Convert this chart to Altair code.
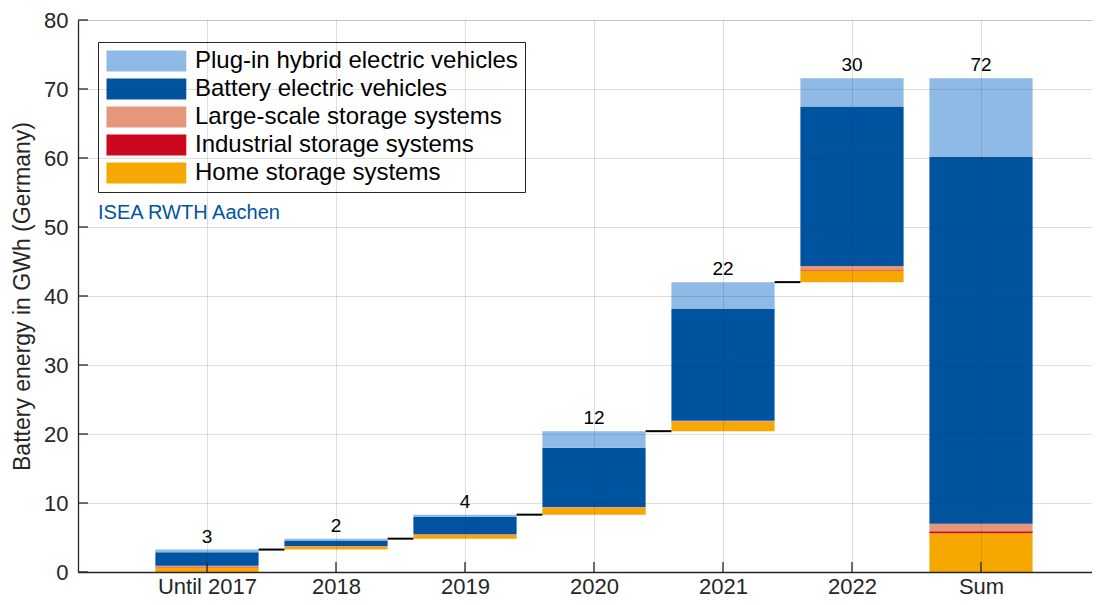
import altair as alt
import pandas as pd

# ---------------- data ----------------
categories = ["Until 2017", "2018", "2019", "2020", "2021", "2022", "Sum"]
series = [
    "Plug-in hybrid electric vehicles",
    "Battery electric vehicles",
    "Large-scale storage systems",
    "Industrial storage systems",
    "Home storage systems",
]
colors = ["#8EBAE5", "#00549F", "#E69679", "#CC071E", "#F6A800"]

# yearly additions in GWh (Until 2017 ... 2022)
home = [0.6, 0.45, 0.55, 0.95, 1.35, 1.7]
industrial = [0.1, 0.03, 0.03, 0.05, 0.05, 0.05]
large_scale = [0.2, 0.05, 0.05, 0.1, 0.1, 0.6]
bev = [1.95, 0.8, 2.5, 8.6, 16.2, 23.1]
phev = [0.4, 0.25, 0.35, 2.4, 3.9, 4.1]
value_labels = ["3", "2", "4", "12", "22", "30", "72"]
y_ticks = [0, 10, 20, 30, 40, 50, 60, 70, 80]

# ---------------- layout ----------------
W, H = 1014, 552
STEP = 129.0
X_MAX = W / STEP
HALF = 0.4
FONT = "Liberation Sans, Arial, Helvetica, sans-serif"
DARK = "#262626"

stack_order = [
    ("Home storage systems", home),
    ("Industrial storage systems", industrial),
    ("Large-scale storage systems", large_scale),
    ("Battery electric vehicles", bev),
    ("Plug-in hybrid electric vehicles", phev),
]

rows = []
tops = []
base = 0.0
n_years = len(home)
for i in range(n_years):
    for name, vals in stack_order:
        v = vals[i]
        rows.append({"pos": i + 1, "series": name, "y0": base, "y1": base + v})
        base += v
    tops.append(base)
# Sum bar
s = 0.0
for name, vals in stack_order:
    tot = sum(vals)
    rows.append({"pos": n_years + 1, "series": name, "y0": s, "y1": s + tot})
    s += tot
tops.append(s)

bars_df = pd.DataFrame(rows)
bars_df["xl"] = bars_df["pos"] - HALF
bars_df["xr"] = bars_df["pos"] + HALF

conn_df = pd.DataFrame({
    "xl": [i + 1 + HALF for i in range(n_years - 1)],
    "xr": [i + 2 - HALF for i in range(n_years - 1)],
    "y": tops[: n_years - 1],
})

lab_df = pd.DataFrame({
    "pos": list(range(1, len(categories) + 1)),
    "top": tops,
    "label": value_labels,
})

ytick_df = pd.DataFrame({"v": y_ticks})
xtick_df = pd.DataFrame({"pos": list(range(1, len(categories) + 1))})
note_df = pd.DataFrame({"t": ["ISEA RWTH Aachen"]})

label_expr = "[" + ",".join(["''"] + ["'" + c + "'" for c in categories]) + "][datum.value]"

x_scale = alt.Scale(domain=[0, X_MAX], nice=False, zero=False)
y_scale = alt.Scale(domain=[0, 80], nice=False)

x_axis = alt.Axis(
    values=list(range(1, len(categories) + 1)),
    labelExpr=label_expr,
    title=None,
    ticks=False,
    grid=True,
    gridColor=DARK,
    gridOpacity=0.15,
    domainColor=DARK,
    domainWidth=1.3,
    labelFontSize=22,
    labelColor=DARK,
    labelFont=FONT,
    labelPadding=4,
    zindex=1,
)
y_axis = alt.Axis(
    values=y_ticks,
    title="Battery energy in GWh (Germany)",
    titleFontSize=23,
    titleFont=FONT,
    titleFontWeight="normal",
    titleColor=DARK,
    titlePadding=9,
    ticks=False,
    grid=True,
    gridColor=DARK,
    gridOpacity=0.15,
    domainColor=DARK,
    domainWidth=1.3,
    labelFontSize=22,
    labelColor=DARK,
    labelFont=FONT,
    labelPadding=10,
    zindex=1,
)

legend = alt.Legend(
    title=None,
    orient="none",
    legendX=20,
    legendY=22,
    symbolType="M-1,-1H6.6V1H-1Z",
    symbolSize=441,
    symbolStrokeWidth=0,
    symbolOpacity=1,
    labelOffset=66,
    labelFontSize=24,
    labelFont=FONT,
    labelColor="black",
    labelLimit=600,
    padding=7,
    rowPadding=4,
    strokeColor=DARK,
    fillColor="white",
    cornerRadius=0,
)

bars = alt.Chart(bars_df).mark_bar(strokeWidth=0).encode(
    x=alt.X("xl:Q", scale=x_scale, axis=x_axis),
    x2="xr:Q",
    y=alt.Y("y0:Q", scale=y_scale, axis=y_axis),
    y2="y1:Q",
    color=alt.Color("series:N", scale=alt.Scale(domain=series, range=colors), legend=legend),
)

connectors = alt.Chart(conn_df).mark_rule(color="black", strokeWidth=2).encode(
    x=alt.X("xl:Q", scale=x_scale),
    x2="xr:Q",
    y=alt.Y("y:Q", scale=y_scale),
)

labels = alt.Chart(lab_df).mark_text(
    baseline="alphabetic", dy=-7, fontSize=19, font=FONT, color="black"
).encode(
    x=alt.X("pos:Q", scale=x_scale),
    y=alt.Y("top:Q", scale=y_scale),
    text="label:N",
)

yticks = alt.Chart(ytick_df).mark_rule(color=DARK, strokeWidth=1.3).encode(
    x=alt.value(0),
    x2=alt.value(10),
    y=alt.Y("v:Q", scale=y_scale),
)

xticks = alt.Chart(xtick_df).mark_rule(color=DARK, strokeWidth=1.3).encode(
    x=alt.X("pos:Q", scale=x_scale),
    y=alt.value(H - 10),
    y2=alt.value(H),
)

note = alt.Chart(note_df).mark_text(
    align="left", baseline="middle", fontSize=20, font=FONT, color="#00549F"
).encode(
    x=alt.value(20),
    y=alt.value(193),
    text="t:N",
)

chart = alt.layer(bars, connectors, labels, yticks, xticks, note).properties(
    width=W,
    height=H,
    padding={"left": 70, "top": 12, "right": 0, "bottom": 25},
    autosize=alt.AutoSizeParams(type="none"),
).configure_view(stroke="transparent").configure(background="white")

chart.save("out.html", embed_options={"renderer": "svg", "actions": False})
